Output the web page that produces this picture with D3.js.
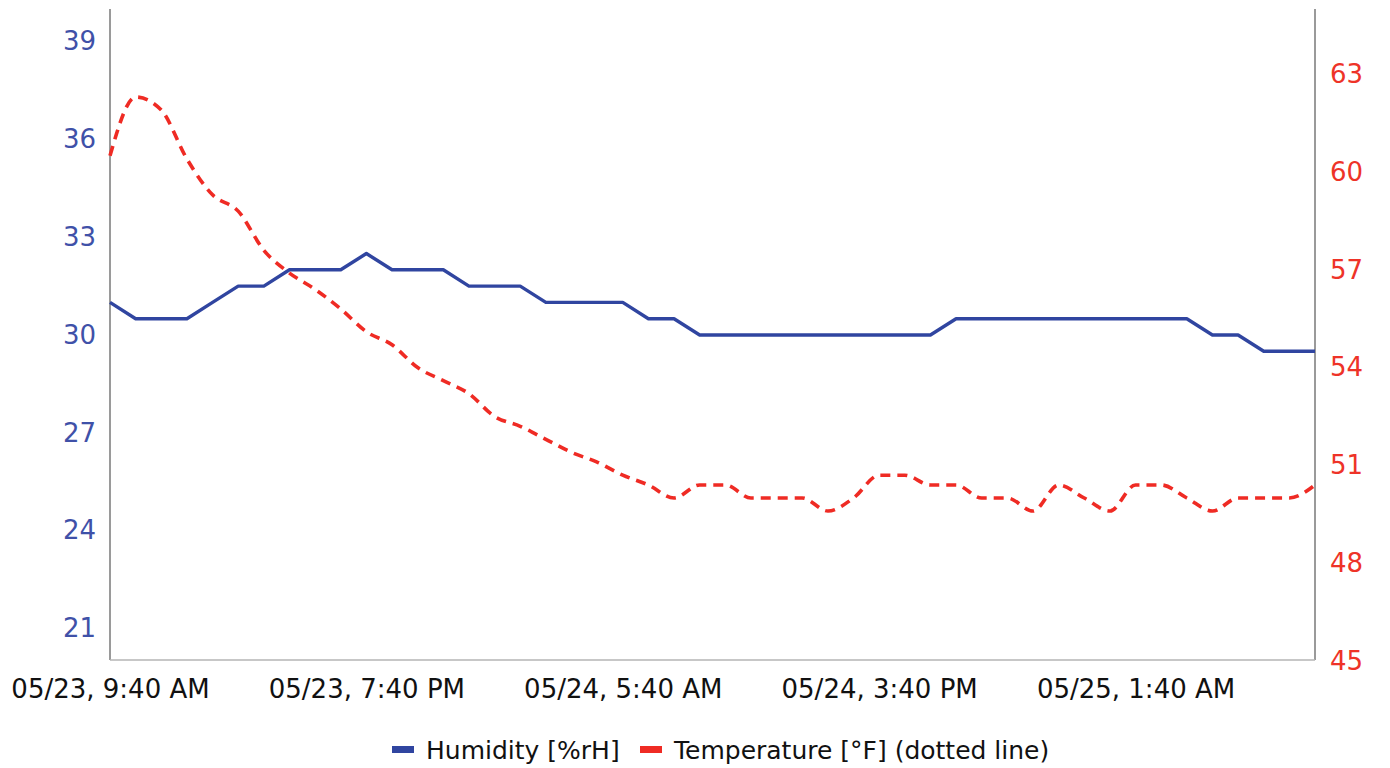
<!DOCTYPE html>
<html>
<head>
<meta charset="utf-8">
<script src="https://cdn.jsdelivr.net/npm/d3@7"></script>
<style>
  html, body { margin: 0; padding: 0; background: #fff; }
  svg { display: block; }
  text { font-family: "DejaVu Sans", sans-serif; }
</style>
</head>
<body>
<svg id="chart" width="1390" height="768"></svg>
<script>
// ---- data (hourly readings starting 05/23, 9:40 AM) ----
const startTime = "2023-05-23T09:40:00";
const humidity = [
  31.0, 30.5, 30.5, 30.5, 31.0, 31.5, 31.5, 32.0, 32.0, 32.0,
  32.5, 32.0, 32.0, 32.0, 31.5, 31.5, 31.5, 31.0, 31.0, 31.0,
  31.0, 30.5, 30.5, 30.0, 30.0, 30.0, 30.0, 30.0, 30.0, 30.0,
  30.0, 30.0, 30.0, 30.5, 30.5, 30.5, 30.5, 30.5, 30.5, 30.5,
  30.5, 30.5, 30.5, 30.0, 30.0, 29.5, 29.5, 29.5
];
const temperature = [
  60.5, 62.3, 61.9, 60.4, 59.3, 58.8, 57.6, 56.9, 56.4, 55.8,
  55.1, 54.7, 54.0, 53.6, 53.2, 52.5, 52.2, 51.8, 51.4, 51.1,
  50.7, 50.4, 50.0, 50.4, 50.4, 50.0, 50.0, 50.0, 49.6, 50.0,
  50.7, 50.7, 50.4, 50.4, 50.0, 50.0, 49.6, 50.4, 50.0, 49.6,
  50.4, 50.4, 50.0, 49.6, 50.0, 50.0, 50.0, 50.4
];
const humidityTicks = [21, 24, 27, 30, 33, 36, 39];
const temperatureTicks = [45, 48, 51, 54, 57, 60, 63];
const xTickHours = [0, 10, 20, 30, 40];
const seriesNames = ["Humidity [%rH]", "Temperature [°F] (dotted line)"];
const seriesColors = ["#3045a0", "#ef2b24"];

// ---- layout ----
const svg = d3.select("#chart");
const plotLeft = 110, plotRight = 1315, plotTop = 9, plotBottom = 661;

const t0 = new Date(startTime);
const hour = 3600 * 1000;
const times = humidity.map((_, i) => new Date(t0.getTime() + i * hour));

const x = d3.scaleTime()
  .domain([times[0], times[times.length - 1]])
  .range([plotLeft, plotRight]);
const yL = d3.scaleLinear().domain([20, 40]).range([plotBottom, plotTop]);
const yR = d3.scaleLinear().domain([45, 65]).range([plotBottom, plotTop]);

// axis frame lines
svg.append("line")
  .attr("x1", plotLeft).attr("x2", plotLeft).attr("y1", 9).attr("y2", 660)
  .attr("stroke", "#9a9a9a").attr("stroke-width", 2);
svg.append("line")
  .attr("x1", plotRight).attr("x2", plotRight).attr("y1", 9).attr("y2", 660)
  .attr("stroke", "#9a9a9a").attr("stroke-width", 2);
svg.append("line")
  .attr("x1", plotLeft).attr("x2", plotRight).attr("y1", 660).attr("y2", 660)
  .attr("stroke", "#b5b5b5").attr("stroke-width", 1.6);

// axes
const fmt = d3.timeFormat("%m/%d, %-I:%M %p");
const xAxis = d3.axisBottom(x)
  .tickValues(xTickHours.map(h => new Date(t0.getTime() + h * hour)))
  .tickFormat(fmt).tickSize(0).tickPadding(20);
const gx = svg.append("g").attr("transform", `translate(0,660)`).call(xAxis);
gx.select(".domain").remove();
gx.selectAll("text").attr("fill", "#111").style("font-size", "26px");

const gl = svg.append("g").attr("transform", `translate(${plotLeft},0)`)
  .call(d3.axisLeft(yL).tickValues(humidityTicks).tickSize(0).tickPadding(14));
gl.select(".domain").remove();
gl.selectAll("text").attr("fill", "#3f51a8").style("font-size", "26px");

const gr = svg.append("g").attr("transform", `translate(${plotRight},0)`)
  .call(d3.axisRight(yR).tickValues(temperatureTicks).tickSize(0).tickPadding(15));
gr.select(".domain").remove();
gr.selectAll("text").attr("fill", "#ee3328").style("font-size", "26px");

// lines
const humLine = d3.line()
  .x((d, i) => x(times[i]))
  .y(d => yL(d));
svg.append("path")
  .datum(humidity)
  .attr("fill", "none")
  .attr("stroke", seriesColors[0])
  .attr("stroke-width", 3.4)
  .attr("stroke-linejoin", "round")
  .attr("d", humLine);

const tempLine = d3.line()
  .x((d, i) => x(times[i]))
  .y(d => yR(d))
  .curve(d3.curveMonotoneX);
svg.append("path")
  .datum(temperature)
  .attr("fill", "none")
  .attr("stroke", seriesColors[1])
  .attr("stroke-width", 3.6)
  .attr("stroke-dasharray", "10,7")
  .attr("d", tempLine);

// legend
const legend = svg.append("g").attr("transform", "translate(0,750)");
const legendItems = [
  { name: seriesNames[0], color: seriesColors[0], sx: 392 },
  { name: seriesNames[1], color: seriesColors[1], sx: 640 }
];
legendItems.forEach(it => {
  legend.append("rect")
    .attr("x", it.sx).attr("y", -4).attr("width", 22).attr("height", 7)
    .attr("fill", it.color);
  legend.append("text")
    .attr("x", it.sx + 34).attr("y", 0).attr("dy", "0.35em")
    .attr("fill", "#111").style("font-size", "25px")
    .text(it.name);
});
</script>
</body>
</html>
